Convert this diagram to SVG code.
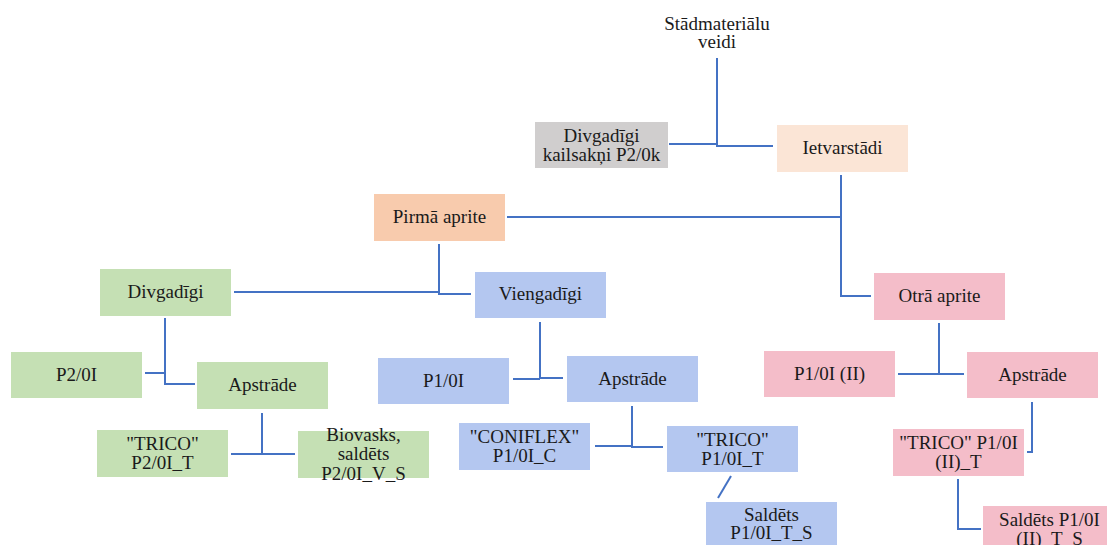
<svg xmlns="http://www.w3.org/2000/svg" width="1107" height="545" viewBox="0 0 1107 545">
<style>
text{font-family:"Liberation Serif","Tinos","DejaVu Serif","Noto Serif",serif;font-size:19px;fill:#1a1a1a;text-anchor:middle}
.c{fill:none;stroke:#4472c4;stroke-width:2}
.grey{fill:#d0cece}
.peach{fill:#fbe5d6}
.orange{fill:#f8cbad}
.green{fill:#c5e0b4}
.blue{fill:#b4c7f0}
.pink{fill:#f4bdc9}
</style>
<rect width="1107" height="545" fill="#ffffff"/>
<g id="connectors">
<path class="c" d="M717,58 V146 H773"/>
<path class="c" d="M669,144 H717"/>
<path class="c" d="M841,175 V296 H871"/>
<path class="c" d="M507,217 H841"/>
<path class="c" d="M439,244 V294 H471"/>
<path class="c" d="M234,292 H439"/>
<path class="c" d="M165,318 V384 H195"/>
<path class="c" d="M145,373 H165"/>
<path class="c" d="M540,322 V378 H563"/>
<path class="c" d="M513,379 H540"/>
<path class="c" d="M939,323 V374"/>
<path class="c" d="M898,374 H964"/>
<path class="c" d="M262,413 V454"/>
<path class="c" d="M231,454 H295"/>
<path class="c" d="M632,406 V447 H663"/>
<path class="c" d="M595,446 H632"/>
<path class="c" d="M731,476 L718,498"/>
<path class="c" d="M1032,402 V452 H1027"/>
<path class="c" d="M958,479 V529 H981"/>
</g>
<g id="root"><text x="717" y="30" font-family="Liberation Serif, serif">Stādmateriālu</text><text x="717" y="48" font-family="Liberation Serif, serif">veidi</text></g>
<g id="kailsakni"><rect class="grey" x="535" y="122" width="133" height="46"/><text x="601.5" y="141.5">Divgadīgi</text><text x="601.5" y="160.5">kailsakņi P2/0k</text></g>
<g id="ietvarstadi"><rect class="peach" x="777" y="125" width="131" height="47"/><text x="842.5" y="154">Ietvarstādi</text></g>
<g id="pirma"><rect class="orange" x="374" y="194" width="131" height="47"/><text x="439.5" y="223">Pirmā aprite</text></g>
<g id="divgadigi"><rect class="green" x="100" y="269" width="131" height="47"/><text x="165.5" y="298">Divgadīgi</text></g>
<g id="viengadigi"><rect class="blue" x="475" y="272" width="131" height="46"/><text x="540.5" y="300">Viengadīgi</text></g>
<g id="otra"><rect class="pink" x="874" y="273" width="131" height="47"/><text x="939.5" y="302">Otrā aprite</text></g>
<g id="p2-0i"><rect class="green" x="11" y="352" width="131" height="46"/><text x="76.5" y="380.5">P2/0I</text></g>
<g id="apstrade-green"><rect class="green" x="197" y="362" width="131" height="47"/><text x="262.5" y="391">Apstrāde</text></g>
<g id="p1-0i"><rect class="blue" x="378" y="358" width="131" height="46"/><text x="443.5" y="386.5">P1/0I</text></g>
<g id="apstrade-blue"><rect class="blue" x="567" y="356" width="131" height="46"/><text x="632.5" y="384.5">Apstrāde</text></g>
<g id="p1-0i-ii"><rect class="pink" x="764" y="351" width="131" height="46"/><text x="829.5" y="379.5">P1/0I (II)</text></g>
<g id="apstrade-pink"><rect class="pink" x="967" y="352" width="131" height="46"/><text x="1032.5" y="380.5">Apstrāde</text></g>
<g id="trico-green"><rect class="green" x="97" y="430" width="131" height="47"/><text x="162.5" y="450">"TRICO"</text><text x="162.5" y="469">P2/0I_T</text></g>
<g id="biovasks"><rect class="green" x="298" y="431" width="131" height="47"/><text x="363.5" y="440.5">Biovasks,</text><text x="363.5" y="460">saldēts</text><text x="363.5" y="479.5">P2/0I_V_S</text></g>
<g id="coniflex"><rect class="blue" x="459" y="423" width="131" height="47"/><text x="524.5" y="443">"CONIFLEX"</text><text x="524.5" y="462">P1/0I_C</text></g>
<g id="trico-blue"><rect class="blue" x="667" y="426" width="131" height="46"/><text x="732.5" y="445.5">"TRICO"</text><text x="732.5" y="464.5">P1/0I_T</text></g>
<g id="saldets-blue"><rect class="blue" x="706" y="502" width="131" height="47"/><text x="771.5" y="520.5">Saldēts</text><text x="771.5" y="539">P1/0I_T_S</text></g>
<g id="trico-pink"><rect class="pink" x="893" y="429" width="131" height="47"/><text x="958.5" y="449">"TRICO" P1/0I</text><text x="958.5" y="468">(II)_T</text></g>
<g id="saldets-pink"><rect class="pink" x="983" y="506" width="131" height="47"/><text x="1049.5" y="526">Saldēts P1/0I</text><text x="1049.5" y="545">(II)_T_S</text></g>
</svg>
